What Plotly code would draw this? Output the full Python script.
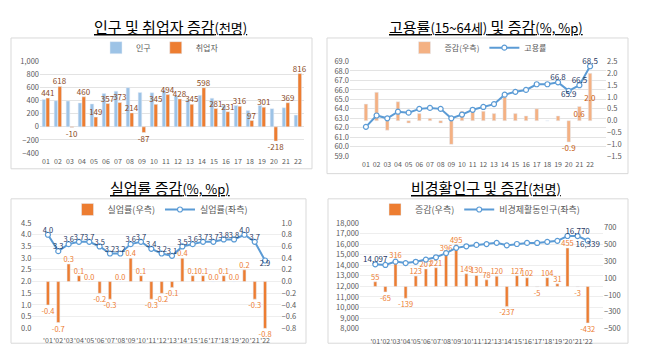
import plotly.graph_objects as go

# ---------------- data ----------------
years_a = ['01', '02', '03', '04', '05', '06', '07', '08', '09', '10', '11',
           '12', '13', '14', '15', '16', '17', '18', '19', '20', '21', '22']
years_b = ["'" + y for y in years_a]

pop_change = [420, 400, 395, 366, 351, 512, 546, 600, 527, 522, 561,
              473, 415, 483, 439, 330, 327, 249, 327, 278, 293, 180]
emp_change = [441, 618, -10, 460, 149, 357, 373, 214, -87, 345, 494,
              428, 345, 598, 281, 231, 316, 97, 301, -218, 369, 816]

emp_rate = [62.1, 63.3, 63.0, 63.7, 63.6, 64.0, 64.1, 64.0, 63.0, 63.4, 63.9,
            64.2, 64.5, 65.5, 65.8, 66.0, 66.6, 66.6, 66.8, 65.9, 66.5, 68.5]
emp_rate_chg = [0.7, 1.2, -0.4, 0.8, -0.1, 0.3, 0.1, -0.1, -1.0, 0.4, 0.4,
                0.4, 0.3, 1.0, 0.3, 0.2, 0.5, 0.0, 0.2, -0.9, 0.6, 2.0]

unemp = [4.0, 3.3, 3.6, 3.7, 3.7, 3.5, 3.2, 3.2, 3.6, 3.7, 3.4,
         3.2, 3.1, 3.5, 3.6, 3.7, 3.7, 3.8, 3.8, 4.0, 3.7, 2.9]
unemp_chg = [-0.4, -0.7, 0.3, 0.1, 0.0, -0.2, -0.3, 0.0, 0.4, 0.1, -0.3,
             -0.2, -0.1, 0.4, 0.1, 0.1, 0.0, 0.1, 0.0, 0.2, -0.3, -0.8]

nea = [14097, 14032, 14348, 14209, 14332, 14539, 14760, 15156, 15651, 15800, 15930,
       16008, 16128, 15891, 16018, 16120, 16115, 16219, 16319, 16773, 16770, 16339]
nea_chg = [55, -65, 316, -139, 123, 207, 221, 396, 495, 149, 130,
           78, 120, -237, 127, 102, -5, 104, 31, 455, -3, -432]

# ---------------- styles ----------------
W, H = 646, 355
FONT = "Noto Sans CJK KR"
TICK = dict(family=FONT, size=7.5, color="#595959")
TICK_X = dict(family=FONT, size=7, color="#595959")
BLUE_BAR = "#9dc3e6"
ORANGE = "#ed7d31"
LIGHT_ORANGE = "#f4b183"
LINE_BLUE = "#5b9bd5"
NAVY = "#1f3864"
BROWN = "#8a4b1f"
GRID = "#e3e3e3"


def px_x(a, b):
    return [a / W, b / W]


def px_y(top, bottom):
    return [1 - bottom / H, 1 - top / H]


fig = go.Figure()

# ---------- panel 1 : 인구 및 취업자 증감 ----------
fig.add_trace(go.Bar(x=years_a, y=pop_change, name="인구", marker_color=BLUE_BAR,
                     offset=-0.32, width=0.3, xaxis="x", yaxis="y", legend="legend"))
fig.add_trace(go.Bar(x=years_a, y=emp_change, name="취업자", marker_color=ORANGE,
                     offset=0.0, width=0.3, xaxis="x", yaxis="y", legend="legend",
                     text=[str(v) for v in emp_change], textposition="outside",
                     textangle=0, constraintext="none", cliponaxis=False,
                     textfont=dict(family=FONT, size=8, color=BROWN)))

# ---------- panel 2 : 고용률 ----------
pos2 = ["outside" if v < 0 else "inside" for v in emp_rate_chg]
txt2 = ["" for _ in emp_rate_chg[:19]] + [f"{v:.1f}" for v in emp_rate_chg[19:]]
fig.add_trace(go.Bar(x=years_a, y=emp_rate_chg, name="증감(우측)", marker_color=LIGHT_ORANGE,
                     width=0.33, xaxis="x2", yaxis="y2", legend="legend2",
                     text=txt2, textposition=pos2, insidetextanchor="middle",
                     textangle=0, constraintext="none", cliponaxis=False,
                     textfont=dict(family=FONT, size=8, color="#c55a11")))
fig.add_trace(go.Scatter(x=years_a, y=emp_rate, name="고용률", mode="lines+markers",
                         line=dict(color=LINE_BLUE, width=2),
                         marker=dict(symbol="circle", size=5, color="white",
                                     line=dict(color=LINE_BLUE, width=1.2)),
                         xaxis="x2", yaxis="y3", legend="legend2"))
txt2l = ["" for _ in emp_rate[:18]] + [f"{v:.1f}" for v in emp_rate[18:]]
pos2l = ["top center"] * 19 + ["bottom center", "top center", "top center"]
fig.add_trace(go.Scatter(x=years_a, y=emp_rate, mode="text", text=txt2l,
                         textposition=pos2l, showlegend=False, cliponaxis=False,
                         textfont=dict(family=FONT, size=8, color=NAVY),
                         xaxis="x2", yaxis="y3"))

# ---------- panel 3 : 실업률 ----------
fig.add_trace(go.Bar(x=years_b, y=unemp_chg, name="실업률(우측)", marker_color=ORANGE,
                     width=0.3, xaxis="x3", yaxis="y4", legend="legend3",
                     text=[f"{v:.1f}" for v in unemp_chg], textposition="outside",
                     textangle=0, constraintext="none", cliponaxis=False,
                     textfont=dict(family=FONT, size=7.5, color=ORANGE)))
fig.add_trace(go.Scatter(x=years_b, y=unemp, name="실업률(좌측)", mode="lines+markers",
                         line=dict(color=LINE_BLUE, width=2),
                         marker=dict(symbol="circle", size=5, color="white",
                                     line=dict(color=LINE_BLUE, width=1.2)),
                         xaxis="x3", yaxis="y5", legend="legend3"))
pos3l = ["top center"] * 21 + ["bottom center"]
fig.add_trace(go.Scatter(x=years_b, y=unemp, mode="text", text=[f"{v:.1f}" for v in unemp],
                         textposition=pos3l, showlegend=False, cliponaxis=False,
                         textfont=dict(family=FONT, size=7.5, color=NAVY),
                         xaxis="x3", yaxis="y5"))

# ---------- panel 4 : 비경활인구 ----------
fig.add_trace(go.Bar(x=years_b, y=nea_chg, name="증감(우측)", marker_color=ORANGE,
                     width=0.3, xaxis="x4", yaxis="y6", legend="legend4",
                     text=[str(v) for v in nea_chg], textposition="outside",
                     textangle=0, constraintext="none", cliponaxis=False,
                     textfont=dict(family=FONT, size=7.5, color=ORANGE)))
fig.add_trace(go.Scatter(x=years_b, y=nea, name="비경제활동인구(좌측)", mode="lines+markers",
                         line=dict(color=LINE_BLUE, width=2),
                         marker=dict(symbol="circle", size=5, color="white",
                                     line=dict(color=LINE_BLUE, width=1.2)),
                         xaxis="x4", yaxis="y7", legend="legend4"))
txt4l = [f"{nea[0]:,}"] + [""] * 19 + [f"{v:,}" for v in nea[20:]]
pos4l = ["top center"] * 21 + ["bottom center"]
fig.add_trace(go.Scatter(x=years_b, y=nea, mode="text", text=txt4l,
                         textposition=pos4l, showlegend=False, cliponaxis=False,
                         textfont=dict(family=FONT, size=8, color=NAVY),
                         xaxis="x4", yaxis="y7"))

# ---------------- layout ----------------
xa_common = dict(type="category", showline=False, ticks="", tickfont=TICK_X,
                 tickangle=0, showgrid=False, zeroline=False)
ya_common = dict(tickfont=TICK, showline=False, ticks="", zeroline=False)

layout = dict(
    width=W, height=H, margin=dict(l=0, r=0, t=0, b=0),
    paper_bgcolor="white", plot_bgcolor="white",
    font=dict(family=FONT, color="#595959"),
    barmode="overlay",
    xaxis=dict(domain=px_x(40, 304), anchor="y", ticklabelstandoff=3, **xa_common),
    yaxis=dict(domain=px_y(57.3, 151.7), anchor="x", range=[-400, 1000], dtick=200,
               tickformat=",", showgrid=True, gridcolor=GRID, **ya_common),

    xaxis2=dict(domain=px_x(350, 606), anchor="y2", ticklabelstandoff=3, **xa_common),
    yaxis2=dict(domain=px_y(57.3, 155), anchor="x2", side="right", range=[-1.5, 2.5],
                dtick=0.5, tickformat=".1f", showgrid=False, **ya_common),
    yaxis3=dict(overlaying="y2", anchor="x2", side="left", range=[59, 69], dtick=1,
                tickformat=".1f", showgrid=True, gridcolor=GRID, **ya_common),

    xaxis3=dict(domain=px_x(32.4, 280.6), anchor="y4", ticklabelstandoff=7, **xa_common),
    yaxis4=dict(domain=px_y(224, 332.7), anchor="x3", side="right", range=[-0.8, 1.0],
                dtick=0.2, tickformat=".1f", showgrid=False, **ya_common),
    yaxis5=dict(overlaying="y4", anchor="x3", side="left", range=[0, 4.5], dtick=0.5,
                tickformat=".1f", showgrid=True, gridcolor="#eeeeee", **ya_common),

    xaxis4=dict(domain=px_x(360, 603), anchor="y6", ticklabelstandoff=7, **xa_common),
    yaxis6=dict(domain=px_y(224, 333), anchor="x4", side="right", range=[-500, 750],
                tick0=-500, dtick=200, showgrid=False, **ya_common),
    yaxis7=dict(overlaying="y6", anchor="x4", side="left", range=[8000, 18000], dtick=1000,
                tickformat=",", showgrid=True, gridcolor="#eeeeee", **ya_common),
)

leg_common = dict(orientation="h", xanchor="center", yanchor="middle",
                  bgcolor="rgba(0,0,0,0)", itemwidth=30, tracegroupgap=0)
layout["legend"] = dict(x=160 / W, y=1 - 43 / H, font=dict(family=FONT, size=8, color="#595959"), **leg_common)
layout["legend2"] = dict(x=478 / W, y=1 - 43 / H, font=dict(family=FONT, size=8, color="#595959"), **leg_common)
layout["legend3"] = dict(x=160 / W, y=1 - 210 / H, font=dict(family=FONT, size=9, color="#595959"), **leg_common)
layout["legend4"] = dict(x=480 / W, y=1 - 210 / H, font=dict(family=FONT, size=9, color="#595959"), **leg_common)

fig.update_layout(**layout)

# panel frames
boxes = [(11, 33, 312, 168), (327, 33, 628, 173), (11, 199, 306, 348), (328, 199, 628, 348)]
for x0, y0, x1, y1 in boxes:
    fig.add_shape(type="rect", xref="paper", yref="paper", x0=x0 / W, x1=x1 / W,
                  y0=1 - y1 / H, y1=1 - y0 / H, line=dict(color="#d9d9d9", width=1),
                  fillcolor="rgba(0,0,0,0)", layer="below")

titles = [
    ("<u>인구 및 취업자 증감<span style='font-size:13px'>(천명)</span></u>", 170, 21),
    ("<u>고용률<span style='font-size:13px'>(15~64세)</span> 및 증감"
     "<span style='font-size:13px'>(%, %p)</span></u>", 486, 21),
    ("<u>실업률 증감<span style='font-size:13px'>(%, %p)</span></u>", 170, 187),
    ("<u>비경활인구 및 증감<span style='font-size:13px'>(천명)</span></u>", 486, 187),
]
for text, cx, cy in titles:
    fig.add_annotation(text=text, x=cx / W, y=1 - cy / H, xref="paper", yref="paper",
                       xanchor="center", yanchor="middle", showarrow=False,
                       font=dict(family=FONT, size=15, color="black"))

fig.write_html("out.html", config={"displayModeBar": False},
               post_script="document.body.style.margin='0px';document.body.style.overflow='hidden';")
